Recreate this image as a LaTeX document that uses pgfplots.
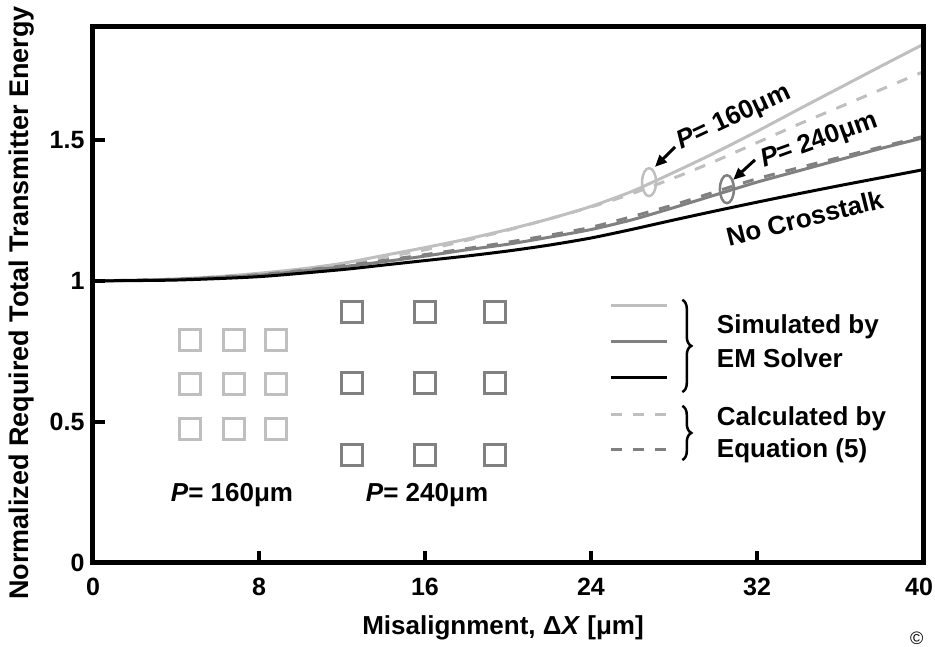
\documentclass[border=0pt]{standalone}
\usepackage{fontspec}
\setmainfont{Liberation Sans}
\usepackage{pgfplots}
\pgfplotsset{compat=1.18}
\usetikzlibrary{arrows.meta,decorations.pathreplacing,calc}
\definecolor{lgray}{RGB}{191,191,191}
\definecolor{mgray}{RGB}{128,128,128}

\begin{document}
\begin{tikzpicture}
\begin{axis}[
  name=ax,
  scale only axis, width=830pt, height=536pt,
  xmin=0, xmax=40, ymin=0, ymax=1.9,
  xtick={0,8,16,24,32,40}, ytick={0,0.5,1,1.5},
  xticklabels={0,8,16,24,32,{40\hspace*{8pt}}},
  tick align=inside, tick pos=left,
  major tick length=12pt,
  tick style={line width=4pt, black},
  axis line style={line width=5pt},
  axis on top, clip=false,
  font=\bfseries\fontsize{26}{30}\selectfont,
  ticklabel style={font=\bfseries\fontsize{25}{30}\selectfont},
  /pgf/number format/assume math mode=true,
  xticklabel style={yshift=-12pt},
  yticklabel style={xshift=-5pt},
  xlabel={Misalignment, Δ\textit{X} [μm]},
  ylabel={Normalized Required Total Transmitter Energy},
  xlabel style={at={(axis description cs:0.494,-0.121)}, anchor=center},
  ylabel style={at={(axis description cs:-0.0855,0.485)}, anchor=center,
    font=\bfseries\fontsize{27}{30}\selectfont},
  every axis plot/.append style={smooth, tension=0.4},
]
% P = 160um, calculated
\addplot[lgray, line width=3pt, dash pattern=on 11pt off 11pt] coordinates {
(0,1) (4,1.005) (8,1.025) (12,1.06) (16,1.11) (20,1.18) (24,1.262)
(26,1.31) (28,1.365) (30,1.425) (32,1.49) (34,1.555) (36,1.617) (38,1.679) (40,1.741)};
% P = 160um, simulated
\addplot[lgray, line width=3pt] coordinates {
(0,1) (2,1.002) (4,1.007) (6,1.015) (8,1.027) (10,1.042) (12,1.062) (14,1.09)
(16,1.118) (18,1.148) (20,1.182) (22,1.22) (24,1.264) (26,1.318) (28,1.385)
(30,1.455) (32,1.53) (34,1.608) (36,1.685) (38,1.762) (40,1.838)};
% P = 240um, calculated
\addplot[mgray, line width=3pt, dash pattern=on 11pt off 11pt] coordinates {
(0,1) (4,1.006) (8,1.022) (12,1.053) (16,1.093) (20,1.137) (24,1.19)
(28,1.27) (32,1.362) (36,1.438) (40,1.512)};
% P = 240um, simulated
\addplot[mgray, line width=3pt] coordinates {
(0,1) (4,1.005) (8,1.02) (12,1.05) (14,1.068) (16,1.088) (18,1.11) (20,1.13)
(22,1.155) (24,1.182) (26,1.217) (28,1.26) (30,1.305) (32,1.35) (34,1.39)
(36,1.43) (38,1.47) (40,1.507)};
% no crosstalk
\addplot[black, line width=3pt] coordinates {
(0,1) (4,1.003) (8,1.015) (12,1.04) (14,1.056) (16,1.072) (18,1.088) (20,1.106)
(22,1.127) (24,1.152) (26,1.183) (28,1.216) (30,1.248) (32,1.279) (34,1.309)
(36,1.338) (38,1.366) (40,1.394)};

% arrays of receivers
\addplot[only marks, mark=square, mark size=10.5pt, mark options={lgray, line width=3.5pt}] coordinates {
(4.67,0.791) (6.80,0.791) (8.82,0.791)
(4.67,0.635) (6.80,0.635) (8.82,0.635)
(4.67,0.475) (6.80,0.475) (8.82,0.475)};
\addplot[only marks, mark=square, mark size=10.5pt, mark options={mgray, line width=3.5pt}] coordinates {
(12.48,0.89) (16.0,0.89) (19.37,0.89)
(12.48,0.638) (16.0,0.638) (19.37,0.638)
(12.48,0.383) (16.0,0.383) (19.37,0.383)};
\node at (axis cs:6.7,0.241) {\textit{P}= 160μm};
\node at (axis cs:16.1,0.241) {\textit{P}= 240μm};

% key
\addplot[lgray, line width=3pt] coordinates {(24.96,0.911) (27.66,0.911)};
\addplot[mgray, line width=3pt] coordinates {(24.96,0.784) (27.66,0.784)};
\addplot[black, line width=3pt] coordinates {(24.96,0.656) (27.66,0.656)};
\addplot[lgray, line width=3pt, dash pattern=on 11pt off 11pt] coordinates {(24.96,0.528) (27.66,0.528)};
\addplot[mgray, line width=3pt, dash pattern=on 11pt off 11pt] coordinates {(24.96,0.401) (27.66,0.401)};
\draw[line width=2.5pt, decorate, decoration={brace, amplitude=9pt}] (axis cs:28.4,0.933) -- (axis cs:28.4,0.606);
\draw[line width=2.5pt, decorate, decoration={brace, amplitude=9pt}] (axis cs:28.4,0.557) -- (axis cs:28.4,0.365);
\node[anchor=west] at (axis cs:29.9,0.837) {Simulated by};
\node[anchor=west] at (axis cs:29.9,0.727) {EM Solver};
\node[anchor=west] at (axis cs:29.9,0.511) {Calculated by};
\node[anchor=west] at (axis cs:29.9,0.397) {Equation (5)};

% annotations
\draw[lgray, line width=2.5pt] (axis cs:26.8,1.35) ellipse [x radius=7pt, y radius=14pt];
\draw[mgray, line width=2.5pt] (axis cs:30.55,1.325) ellipse [x radius=7pt, y radius=14pt];
\draw[line width=3pt, -{Triangle[length=12pt,width=10pt]}] (axis cs:28.05,1.475) -- (axis cs:27.08,1.404);
\draw[line width=3pt, -{Triangle[length=12pt,width=10pt]}] (axis cs:31.9,1.429) -- (axis cs:30.85,1.358);
\node[rotate=25] at (axis cs:30.9,1.578) {\textit{P}= 160μm};
\node[rotate=20] at (axis cs:35.0,1.496) {\textit{P}= 240μm};
\node[rotate=14] at (axis cs:34.3,1.223) {No Crosstalk};
\node[font=\fontsize{18}{20}\selectfont] at (axis cs:39.7,-0.266) {©};
\end{axis}
\pgfresetboundingbox
\path[use as bounding box] ($(ax.south west)+(-93pt,-84pt)$) rectangle ($(ax.north east)+(12pt,27pt)$);
\end{tikzpicture}
\end{document}
